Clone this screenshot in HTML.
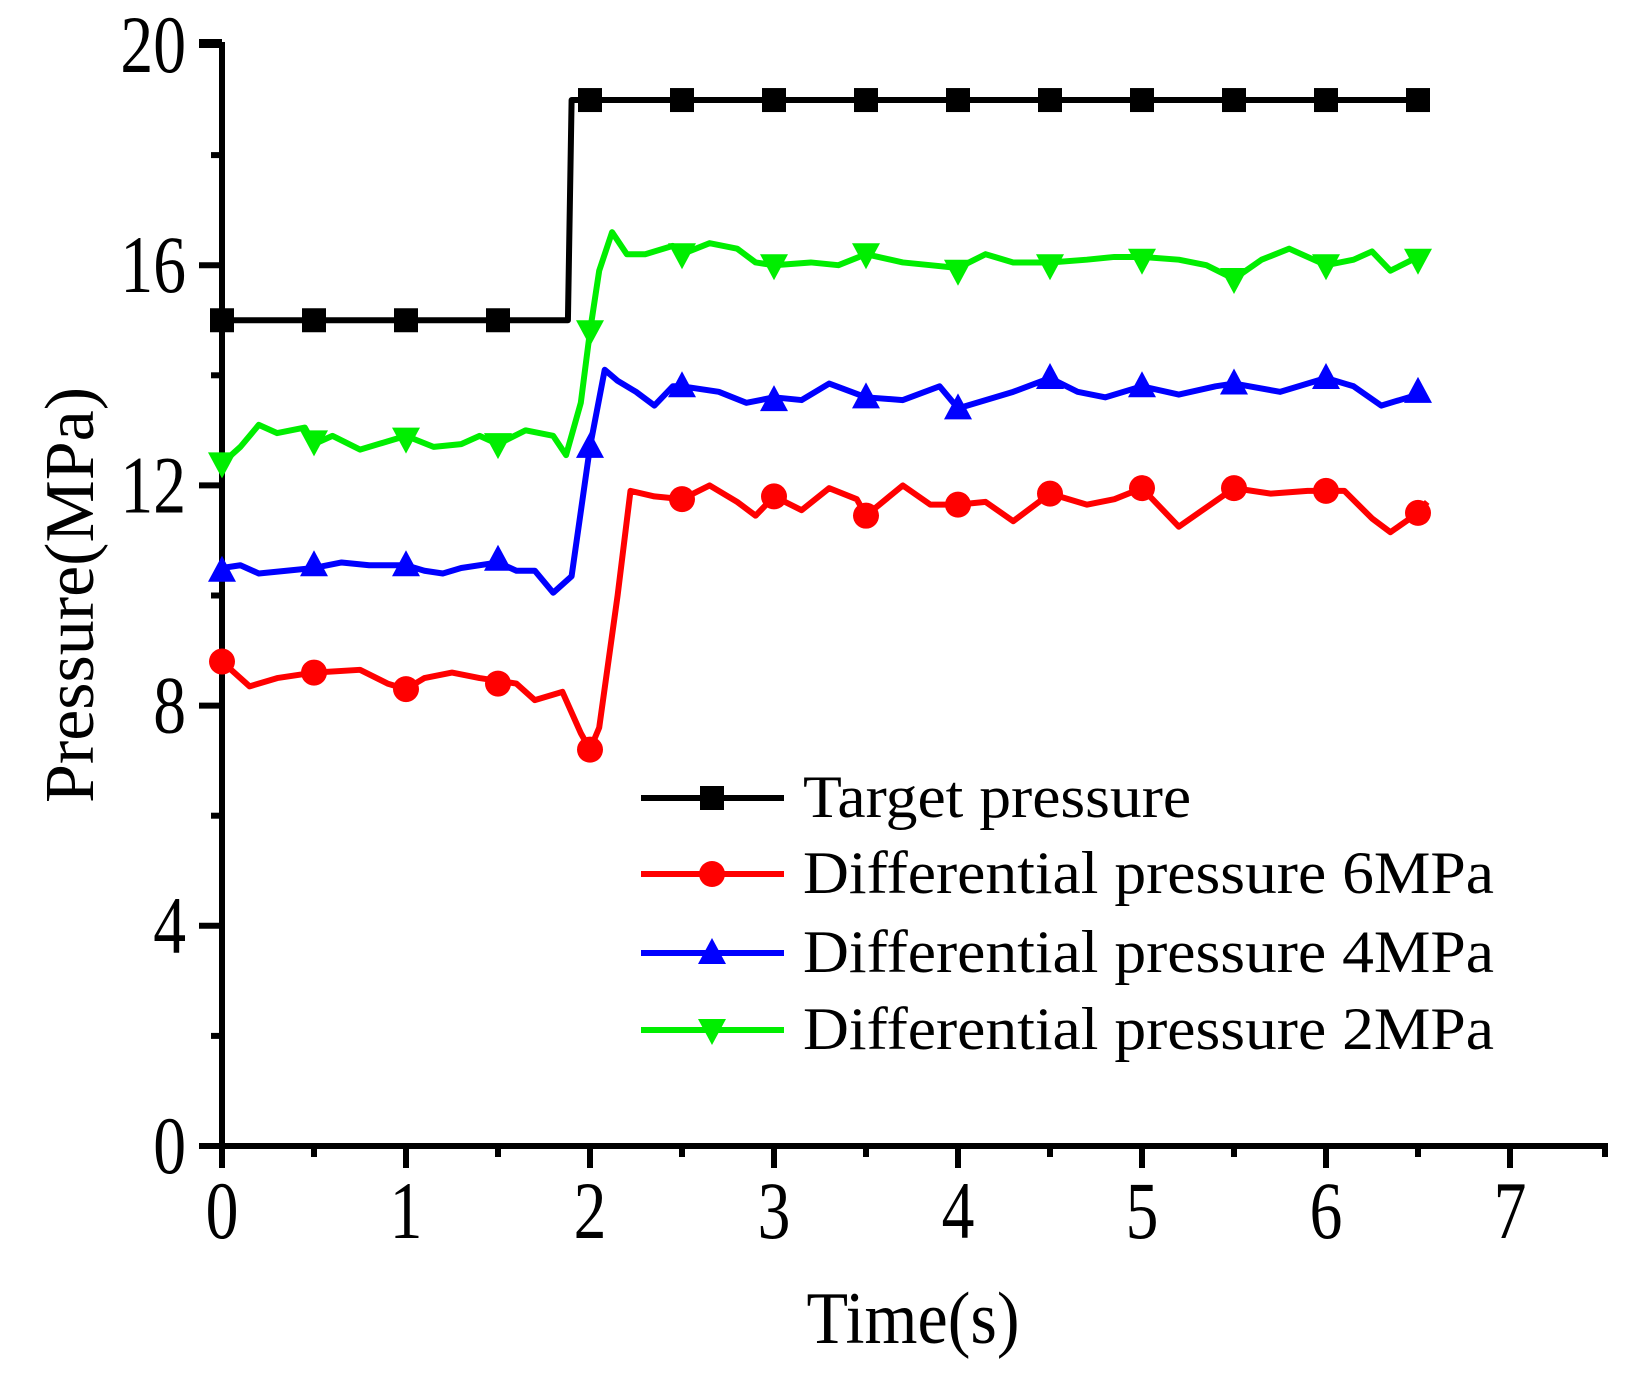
<!DOCTYPE html>
<html><head><meta charset="utf-8"><style>
body{margin:0;background:#fff}
svg text{font-family:"Liberation Serif",serif;fill:#000}
</style></head><body>
<svg id="chart" width="1634" height="1380" viewBox="0 0 1634 1380" xmlns="http://www.w3.org/2000/svg">
<g id="axes"></g>
<g id="series"></g>
<g id="legend"></g>
<text x="0" y="0" font-size="74" text-anchor="middle" transform="translate(913,1343) scale(0.92,1)">Time(s)</text>
<text x="0" y="0" font-size="70" text-anchor="middle" transform="translate(93,595) rotate(-90)">Pressure(MPa)</text>
</svg>
<script>
const xTicks=[0,1,2,3,4,5,6,7];
const yTicks=[0,4,8,12,16,20];
const targetT=[0,1.88,1.9,6.55];
const targetV=[15,15,19,19];
const markT=[0,0.5,1,1.5,2,2.5,3,3.5,4,4.5,5,5.5,6,6.5];
const targetMarkV=[15,15,15,15,19,19,19,19,19,19,19,19,19,19];
const redT=[0,0.15,0.3,0.5,0.75,0.9,1.0,1.1,1.25,1.4,1.6,1.7,1.85,1.95,2.0,2.05,2.15,2.22,2.35,2.5,2.65,2.8,2.9,3.0,3.15,3.3,3.45,3.5,3.7,3.85,4.0,4.15,4.3,4.5,4.7,4.85,5.0,5.1,5.2,5.35,5.5,5.7,5.9,6.1,6.25,6.35,6.5,6.55];
const redV=[8.8,8.35,8.5,8.6,8.65,8.4,8.3,8.5,8.6,8.5,8.4,8.1,8.25,7.5,7.2,7.6,10,11.9,11.8,11.75,12.0,11.7,11.45,11.8,11.55,11.95,11.75,11.45,12.0,11.65,11.65,11.7,11.35,11.85,11.65,11.75,11.95,11.6,11.25,11.6,11.95,11.85,11.9,11.9,11.4,11.15,11.5,11.7];
const redMarkV=[8.8,8.6,8.3,8.4,7.2,11.75,11.8,11.45,11.65,11.85,11.95,11.95,11.9,11.5];
const blueT=[0,0.1,0.2,0.35,0.5,0.65,0.8,1,1.1,1.2,1.3,1.5,1.6,1.7,1.8,1.9,2.0,2.08,2.15,2.25,2.35,2.45,2.5,2.7,2.85,3.0,3.15,3.3,3.5,3.7,3.9,4.0,4.15,4.3,4.5,4.65,4.8,5.0,5.2,5.4,5.5,5.75,6.0,6.15,6.3,6.5];
const blueV=[10.5,10.55,10.4,10.45,10.5,10.6,10.55,10.55,10.45,10.4,10.5,10.6,10.45,10.45,10.05,10.35,12.7,14.1,13.9,13.7,13.45,13.8,13.8,13.7,13.5,13.6,13.55,13.85,13.6,13.55,13.8,13.4,13.55,13.7,13.95,13.7,13.6,13.8,13.65,13.8,13.85,13.7,13.95,13.8,13.45,13.65];
const blueMarkV=[10.45,10.55,10.55,10.65,12.7,13.8,13.55,13.6,13.4,13.95,13.8,13.85,13.95,13.7];
const greenT=[0,0.1,0.2,0.3,0.45,0.5,0.6,0.75,0.9,1.0,1.15,1.3,1.4,1.5,1.65,1.8,1.87,1.95,2.0,2.05,2.12,2.2,2.3,2.45,2.5,2.65,2.8,2.9,3.0,3.2,3.35,3.5,3.7,3.85,4.0,4.15,4.3,4.5,4.7,4.85,5.0,5.2,5.35,5.5,5.65,5.8,6.0,6.15,6.25,6.35,6.5];
const greenV=[12.4,12.7,13.1,12.95,13.05,12.75,12.9,12.65,12.8,12.9,12.7,12.75,12.9,12.75,13.0,12.9,12.55,13.5,14.8,15.9,16.6,16.2,16.2,16.35,16.2,16.4,16.3,16.05,16.0,16.05,16.0,16.2,16.05,16.0,15.95,16.2,16.05,16.05,16.1,16.15,16.15,16.1,16.0,15.75,16.1,16.3,16.0,16.1,16.25,15.9,16.15];
const greenMarkV=[12.4,12.8,12.85,12.75,14.8,16.2,16.0,16.2,15.9,16.0,16.1,15.75,16.0,16.1];
const legendLabels=["Target pressure","Differential pressure 6MPa","Differential pressure 4MPa","Differential pressure 2MPa"];

const NS="http://www.w3.org/2000/svg";
const X=t=>222+t*184;
const Y=v=>1146-v*55.05;
function mk(tag,parent,attrs){const e=document.createElementNS(NS,tag);for(const k in attrs)e.setAttribute(k,attrs[k]);parent.appendChild(e);return e;}
const axes=document.getElementById('axes');
let e;
e=mk('path',axes,{d:`M222 42 H199 M222 42 V1146 H1605 V1157`,stroke:'#000','stroke-width':6,fill:'none'});


xTicks.forEach((t,i)=>{
 e=mk('line',axes,{x1:X(t),x2:X(t),y1:1146,y2:1168,stroke:'#000','stroke-width':6});
 
 
 if(i<xTicks.length-1){e=mk('line',axes,{x1:X(t+0.5),x2:X(t+0.5),y1:1146,y2:1157,stroke:'#000','stroke-width':6});
 
 }
 e=mk('text',axes,{x:0,y:0,'font-size':82,'text-anchor':'middle',transform:`translate(${X(t)},1238) scale(0.8,1)`});e.textContent=t;
 
 
});
yTicks.forEach((v,i)=>{
 e=mk('line',axes,{x1:199,x2:222,y1:Y(v),y2:Y(v),stroke:'#000','stroke-width':6});
 
 
 if(i<yTicks.length-1){e=mk('line',axes,{x1:211,x2:222,y1:Y(v+2),y2:Y(v+2),stroke:'#000','stroke-width':6});
 
 }
 e=mk('text',axes,{x:0,y:0,'font-size':82,'text-anchor':'end',transform:`translate(186,${Y(v)+27}) scale(0.8,1)`});e.textContent=v;
 
 
});
const series=document.getElementById('series');
function marker(g,type,cx,cy,col){
 let m;
 if(type==='sq')m=mk('rect',g,{x:cx-12,y:cy-12,width:24,height:24,fill:col});
 else if(type==='ci')m=mk('circle',g,{cx:cx,cy:cy,r:13,fill:col});
 else if(type==='up')m=mk('polygon',g,{points:`${cx},${cy-15} ${cx-14},${cy+11} ${cx+14},${cy+11}`,fill:col});
 else m=mk('polygon',g,{points:`${cx},${cy+15} ${cx-14},${cy-11} ${cx+14},${cy-11}`,fill:col});
 return m;
}
const defs=[
 {n:'target',t:targetT,v:targetV,mv:targetMarkV,c:'#000',m:'sq'},
 {n:'dp-6mpa',t:redT,v:redV,mv:redMarkV,c:'#ff0000',m:'ci'},
 {n:'dp-4mpa',t:blueT,v:blueV,mv:blueMarkV,c:'#0000ff',m:'up'},
 {n:'dp-2mpa',t:greenT,v:greenV,mv:greenMarkV,c:'#00ee00',m:'dn'}
];
defs.forEach(s=>{
 const g=mk('g',series,{});
 
 
 const p=mk('polyline',g,{points:s.t.map((t,i)=>X(t)+','+Y(s.v[i])).join(' '),fill:'none',stroke:s.c,'stroke-width':6,'stroke-linejoin':'round'});
 
 
 markT.forEach((t,i)=>{const m=marker(g,s.m,X(t),Y(s.mv[i]),s.c);
  
  });
});
const legend=document.getElementById('legend');
const rows=[798,874,953,1030];
defs.forEach((s,i)=>{
 const g=mk('g',legend,{});
 
 
 mk('line',g,{x1:641,x2:784,y1:rows[i],y2:rows[i],stroke:s.c,'stroke-width':6});
 marker(g,s.m,712,rows[i],s.c);
 const tx=mk('text',g,{x:0,y:0,'font-size':60,transform:`translate(803,${rows[i]+19}) scale(1.06,1)`});tx.textContent=legendLabels[i];
});
</script>
</body></html>
